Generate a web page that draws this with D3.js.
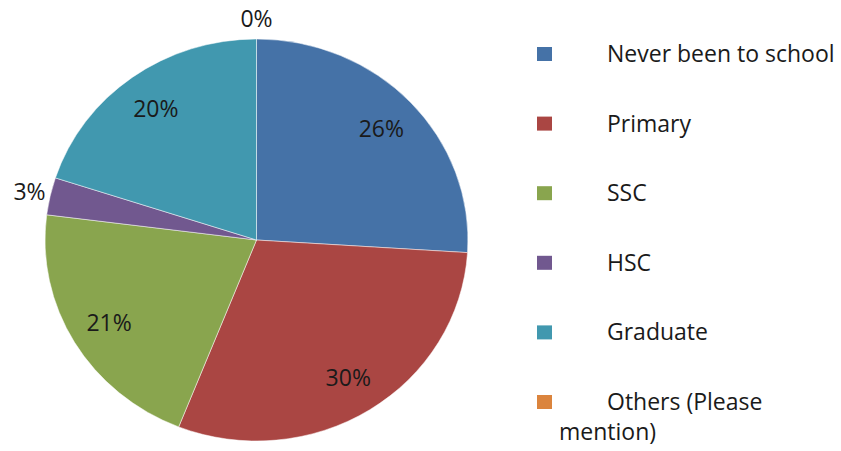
<!DOCTYPE html>
<html><head><meta charset="utf-8">
<script src="https://cdn.jsdelivr.net/npm/d3@7"></script>
<style>body{margin:0;background:#fff}svg{display:block}text{font-family:"Open Sans",sans-serif;fill:#1a1a1a}</style>
</head><body><svg id="c" width="841" height="451"></svg>
<script>
const categories = ["Never been to school","Primary","SSC","HSC","Graduate","Others (Please mention)"];
const values = [26, 30, 21, 3, 20, 0];
const labels = ["26%","30%","21%","3%","20%","0%"];
const colors = ["#4572A7","#AA4643","#89A54E","#71588F","#4198AF","#DB843D"];
const outside = [false,false,false,true,false,true];

const svg = d3.select("#c");
const cx = 256.5, cy = 240, r = 201, sx = 1.052;
const data = categories.map((c,i)=>({c, v: values[i], l: labels[i], col: colors[i], out: outside[i]}));
const pie = d3.pie().sort(null).value(d=>d.v).startAngle(0).endAngle(2*Math.PI);
const arcs = pie(data);
const arc = d3.arc().innerRadius(0).outerRadius(r);
const g = svg.append("g").attr("transform",`translate(${cx},${cy}) scale(${sx},1)`);
g.selectAll("path").data(arcs.filter(a=>a.data.v>0)).join("path")
  .attr("d",arc).attr("fill",d=>d.data.col).attr("stroke","#ffffff").attr("stroke-width",0.8).attr("stroke-opacity",0.6);

const inArc = d3.arc().innerRadius(r*0.81).outerRadius(r*0.81);
const outArc = d3.arc().innerRadius(r*1.1).outerRadius(r*1.1);
svg.append("g").selectAll("text").data(arcs).join("text")
  .attr("x",d=>{const p=(d.data.out?outArc:inArc).centroid(d);return cx+p[0]*sx;})
  .attr("y",d=>{const p=(d.data.out?outArc:inArc).centroid(d);return cy+p[1];})
  .attr("dy","0.36em").attr("text-anchor","middle").attr("font-size",23).text(d=>d.data.l);

// legend
const ly = d3.scalePoint().domain(categories).range([54,402]);
const lg = svg.append("g");
lg.selectAll("rect").data(data).join("rect")
  .attr("x",537).attr("y",d=>ly(d.c)-7).attr("width",15).attr("height",14).attr("fill",d=>d.col);
const lt = lg.selectAll("text").data(data).join("text")
  .attr("x",607).attr("y",d=>ly(d.c)+8).attr("font-size",23);
lt.each(function(d){
  const t=d3.select(this);
  if(d.c.startsWith("Others")){
    t.append("tspan").attr("x",607).text("Others (Please");
    t.append("tspan").attr("x",559).attr("dy",30).text("mention)");
  } else t.text(d.c);
});
</script></body></html>
